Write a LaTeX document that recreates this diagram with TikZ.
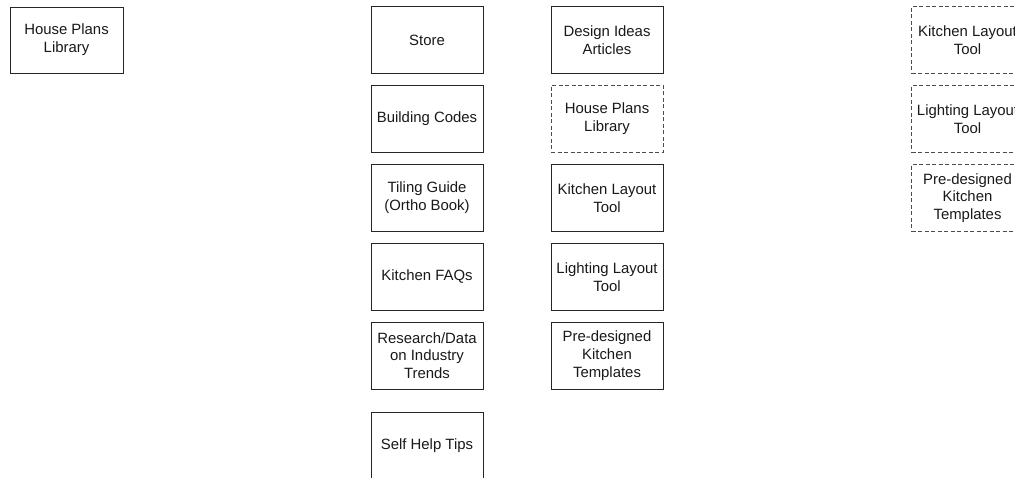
\documentclass[tikz,border=0pt]{standalone}
\usepackage{fontspec}
\setmainfont{Liberation Sans}
\begin{document}
\begin{tikzpicture}[x=1pt,y=-1pt,
  box/.style={draw=black!85,line width=0.9pt,minimum width=112pt,minimum height=67pt,
    align=center,inner sep=0pt,font=\fontsize{14.9pt}{17.8pt}\selectfont,text=black!90},
  dbox/.style={box,draw=black!70,dash pattern=on 4pt off 2.5pt}]
\useasboundingbox (0,0) rectangle (1015,478);
\clip (0,0) rectangle (1015,478);
\fill[white] (0,0) rectangle (1015,478);
\node[box,minimum width=113pt,minimum height=66pt] (lib) at (66.5,40) {House Plans\\Library};
% column A
\node[box] (store) at (427,40) {Store};
\node[box] (codes) at (427,119) {Building Codes};
\node[box] (tile) at (427,198) {Tiling Guide\\(Ortho Book)};
\node[box] (faq) at (427,277) {Kitchen FAQs};
\node[box] (res) at (427,355.5) {Research/Data\\on Industry\\Trends};
\node[box] (self) at (427,445.5) {Self Help Tips};
% column B
\node[box] (design) at (607,40) {Design Ideas\\Articles};
\node[dbox] (lib2) at (607,119) {House Plans\\Library};
\node[box] (klt) at (607,198) {Kitchen Layout\\Tool};
\node[box] (llt) at (607,277) {Lighting Layout\\Tool};
\node[box] (pre) at (607,355.5) {Pre-designed\\Kitchen\\Templates};
% column C
\node[dbox] (klt2) at (967.5,40) {Kitchen Layout\\Tool};
\node[dbox] (llt2) at (967.5,119) {Lighting Layout\\Tool};
\node[dbox] (pre2) at (967.5,198) {Pre-designed\\Kitchen\\Templates};
\end{tikzpicture}
\end{document}
